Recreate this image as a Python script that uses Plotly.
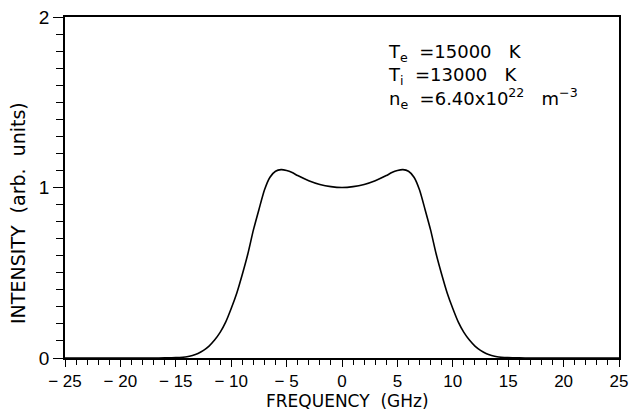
import plotly.graph_objects as go

# Spectrum data
freq_ghz = [-25, -20, -17, -16, -15, -14, -13.5, -13, -12.5, -12, -11.5, -11, -10.5, -10,
            -9.5, -9, -8.5, -8, -7.5, -7, -6.5, -6, -5.5, -5, -4.5, -4, -3, -2, -1, 0,
            1, 2, 3, 4, 4.5, 5, 5.5, 6, 6.5, 7, 7.5, 8, 8.5, 9, 9.5, 10,
            10.5, 11, 11.5, 12, 12.5, 13, 13.5, 14, 15, 16, 17, 20, 25]
intensity = [0, 0, 0, 0.0005, 0.002, 0.007, 0.015, 0.027, 0.045, 0.07, 0.105, 0.15, 0.21, 0.29,
             0.38, 0.49, 0.61, 0.75, 0.87, 0.985, 1.06, 1.095, 1.105, 1.1, 1.088, 1.07, 1.04, 1.018, 1.005, 1.0,
             1.005, 1.018, 1.04, 1.07, 1.088, 1.1, 1.105, 1.095, 1.06, 0.985, 0.87, 0.75, 0.61, 0.49, 0.38, 0.29,
             0.21, 0.15, 0.105, 0.07, 0.045, 0.027, 0.015, 0.007, 0.002, 0.0005, 0, 0, 0]

x_ticks = [-25, -20, -15, -10, -5, 0, 5, 10, 15, 20, 25]
y_ticks = [0, 1, 2]

x_title = "FREQUENCY  (GHz)"
y_title = "INTENSITY  (arb.  units)"
params_text = ("T<sub>e</sub>  =15000   K<br>"
               "T<sub>i</sub>  =13000   K<br>"
               "n<sub>e</sub>  =6.40x10<sup>22</sup>   m<sup>−3</sup>")

TICK_FONT = "Liberation Sans, Arial, sans-serif"
TITLE_FONT = "DejaVu Sans, sans-serif"

fig = go.Figure()
fig.add_trace(go.Scatter(x=freq_ghz, y=intensity, mode="lines",
                         line=dict(color="black", width=1.6, shape="spline", smoothing=0.6),
                         showlegend=False, hoverinfo="skip"))

fig.update_layout(
    width=631, height=412,
    margin=dict(l=65, r=12, t=17, b=54),
    paper_bgcolor="white", plot_bgcolor="white",
    font=dict(family=TICK_FONT, color="black", size=17),
    annotations=[
        dict(text=params_text, xref="paper", yref="paper",
             x=0.58, y=0.935, xanchor="left", yanchor="top",
             align="left", showarrow=False,
             font=dict(family=TITLE_FONT, size=18, color="black")),
        dict(text=y_title, xref="paper", yref="paper",
             x=-0.085, y=0.425, xanchor="center", yanchor="middle",
             textangle=-90, showarrow=False,
             font=dict(family=TITLE_FONT, size=19, color="black")),
        dict(text=x_title, xref="paper", yref="paper",
             x=0.51, y=-0.127, xanchor="center", yanchor="middle",
             showarrow=False,
             font=dict(family=TITLE_FONT, size=17, color="black")),
    ],
)

fig.update_xaxes(
    range=[-25, 25], tickvals=x_ticks, ticktext=[str(v).replace("-", "− ") for v in x_ticks],
    ticks="outside", ticklen=7, tickwidth=1.3, tickcolor="black",
    minor=dict(dtick=1, ticks="outside", ticklen=5, tickwidth=1.2, tickcolor="black"),
    showline=True, linecolor="black", linewidth=1.5, mirror=True,
    showgrid=False, zeroline=False, automargin=False,
    tickfont=dict(size=17),
)
fig.update_yaxes(
    range=[0, 2], tickvals=y_ticks, ticktext=[str(v) for v in y_ticks],
    ticks="outside", ticklen=10, tickwidth=1.3, tickcolor="black",
    minor=dict(dtick=0.1, ticks="outside", ticklen=7, tickwidth=1.2, tickcolor="black"),
    showline=True, linecolor="black", linewidth=1.5, mirror=True,
    showgrid=False, zeroline=False, automargin=False,
    tickfont=dict(size=19),
)

fig.write_html("out.html")
